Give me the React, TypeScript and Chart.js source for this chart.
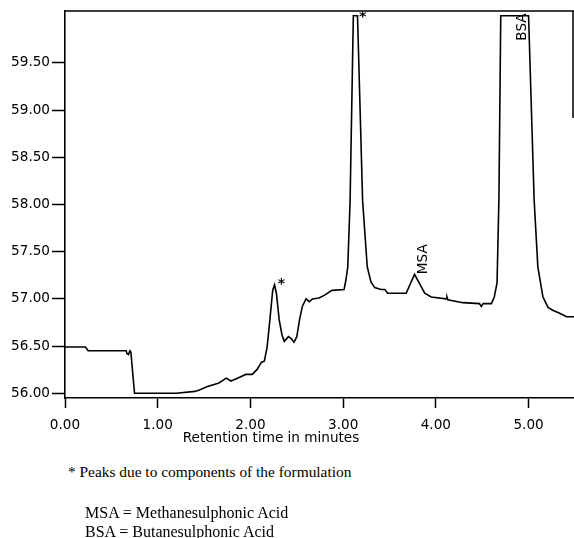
import React, { useEffect, useRef } from "react";
import { Chart, registerables } from "chart.js";

Chart.register(...registerables);

// Retention time (minutes)
const times = [
  0.0, 0.22, 0.25, 0.66, 0.67, 0.685, 0.7, 0.71, 0.75, 1.0, 1.2, 1.4, 1.45, 1.53, 1.66, 1.74, 1.79, 1.86,
  1.95, 2.02, 2.07, 2.12, 2.15, 2.18, 2.21, 2.24, 2.26, 2.28, 2.31, 2.34, 2.365, 2.41, 2.44, 2.47, 2.5,
  2.53, 2.56, 2.6, 2.635, 2.67, 2.74, 2.8, 2.88, 3.01, 3.03, 3.05, 3.075, 3.11, 3.155, 3.21, 3.26, 3.3,
  3.34, 3.41, 3.45, 3.48, 3.68, 3.72, 3.77, 3.82, 3.88, 3.95, 4.11, 4.12, 4.13, 4.29, 4.47, 4.49, 4.51,
  4.6, 4.63, 4.66, 4.68, 4.7, 5.0, 5.06, 5.1, 5.155, 5.21, 5.26, 5.33, 5.41, 5.49,
];

// Detector signal
const signal = [
  56.49, 56.49, 56.45, 56.45, 56.42, 56.41, 56.45, 56.44, 56.0, 56.0, 56.0, 56.02, 56.035, 56.07, 56.11,
  56.16, 56.13, 56.16, 56.2, 56.2, 56.25, 56.33, 56.34, 56.49, 56.78, 57.09, 57.15, 57.06, 56.78, 56.62,
  56.55, 56.6, 56.58, 56.54, 56.6, 56.78, 56.92, 57.0, 56.97, 57.0, 57.01, 57.04, 57.09, 57.1, 57.2,
  57.34, 58.04, 60.0, 60.0, 58.04, 57.34, 57.18, 57.12, 57.1, 57.1, 57.06, 57.06, 57.15, 57.26, 57.17,
  57.06, 57.02, 57.0, 57.02, 56.99, 56.96, 56.95, 56.92, 56.95, 56.95, 57.02, 57.17, 58.05, 60.0, 60.0,
  58.05, 57.34, 57.02, 56.91, 56.88, 56.85, 56.81, 56.81,
];

const xTickValues = [0, 1, 2, 3, 4, 5];
const yTickValues = [56.0, 56.5, 57.0, 57.5, 58.0, 58.5, 59.0, 59.5];
const xAxisTitle = "Retention time in minutes";

const peakLabels = ["*", "*", "MSA", "BSA"];
const peakLabelTimes = [2.335, 3.21, 3.87, 4.93];
const peakLabelValues = [57.2, 60.02, 57.42, 59.88];
const peakLabelRotated = [false, false, true, true];

const footnoteStar = "* Peaks due to components of the formulation";
const footnoteMSA = "MSA = Methanesulphonic Acid";
const footnoteBSA = "BSA = Butanesulphonic Acid";

const AXIS_FONT = '"DejaVu Sans", sans-serif';
const AXIS_SIZE = 13.6;

export default function App() {
  const canvasRef = useRef<HTMLCanvasElement | null>(null);

  useEffect(() => {
    const canvas = canvasRef.current;
    if (!canvas) return;

    const decorPlugin = {
      id: "decor",
      afterDraw(chart: any) {
        const { ctx, chartArea, scales } = chart;
        ctx.save();
        ctx.strokeStyle = "#000";
        ctx.lineWidth = 1.5;
        ctx.beginPath();
        ctx.moveTo(chartArea.left, chartArea.top);
        ctx.lineTo(chartArea.right, chartArea.top);
        ctx.moveTo(chartArea.right - 1, chartArea.top);
        ctx.lineTo(chartArea.right - 1, chartArea.top + 107);
        ctx.stroke();

        ctx.fillStyle = "#000";
        ctx.font = AXIS_SIZE + "px " + AXIS_FONT;
        ctx.textAlign = "center";
        ctx.textBaseline = "middle";
        ctx.fillText(xAxisTitle, 271, 438);

        for (let i = 0; i < peakLabels.length; i++) {
          const px = scales.x.getPixelForValue(peakLabelTimes[i]);
          const py = scales.y.getPixelForValue(peakLabelValues[i]);
          ctx.save();
          ctx.translate(px, py);
          if (peakLabelRotated[i]) {
            ctx.rotate(-Math.PI / 2);
            ctx.font = AXIS_SIZE + "px " + AXIS_FONT;
            ctx.fillText(peakLabels[i], 0, 0);
          } else {
            ctx.font = "bold 14px " + AXIS_FONT;
            ctx.fillText(peakLabels[i], 0, 4);
          }
          ctx.restore();
        }
        ctx.restore();
      },
    };

    const chart = new Chart(canvas, {
      type: "line",
      data: {
        datasets: [
          {
            data: times.map((t, i) => ({ x: t, y: signal[i] })),
            borderColor: "#000",
            borderWidth: 1.6,
            pointRadius: 0,
            tension: 0,
            fill: false,
          },
        ],
      },
      options: {
        animation: false,
        responsive: false,
        events: [],
        layout: { padding: { top: 11, left: 0, right: 0, bottom: 0 } },
        plugins: { legend: { display: false }, tooltip: { enabled: false }, title: { display: false } },
        scales: {
          x: {
            type: "linear",
            min: 0,
            max: 5.49,
            afterBuildTicks: (scale: any) => {
              scale.ticks = xTickValues.map((v) => ({ value: v }));
            },
            afterFit: (scale: any) => {
              scale.height = 52;
            },
            border: { display: true, color: "#000", width: 1.6 },
            grid: {
              display: true,
              drawOnChartArea: false,
              drawTicks: true,
              tickLength: 10,
              tickColor: "#000",
              tickWidth: 1.5,
              color: "#000",
            },
            ticks: {
              color: "#000",
              font: { family: AXIS_FONT, size: AXIS_SIZE },
              padding: 9,
              maxRotation: 0,
              callback: (v: any) => Number(v).toFixed(2),
            },
          },
          y: {
            type: "linear",
            min: 55.95,
            max: 60.05,
            afterBuildTicks: (scale: any) => {
              scale.ticks = yTickValues.map((v) => ({ value: v }));
            },
            afterFit: (scale: any) => {
              scale.width = 65;
            },
            border: { display: true, color: "#000", width: 1.6 },
            grid: {
              display: true,
              drawOnChartArea: false,
              drawTicks: true,
              tickLength: 13,
              tickColor: "#000",
              tickWidth: 1.5,
              color: "#000",
            },
            ticks: {
              color: "#000",
              font: { family: AXIS_FONT, size: AXIS_SIZE },
              padding: 2,
              callback: (v: any) => Number(v).toFixed(2),
            },
          },
        },
      },
      plugins: [decorPlugin],
    });

    return () => chart.destroy();
  }, []);

  const noteStyle: React.CSSProperties = {
    position: "absolute",
    fontFamily: '"Liberation Serif", "Times New Roman", serif',
    fontSize: 16,
    lineHeight: "18px",
    color: "#000",
    whiteSpace: "nowrap",
  };

  return (
    <div style={{ position: "fixed", left: 0, top: 0, width: 574, height: 538, background: "#fff" }}>
      <canvas ref={canvasRef} width={574} height={450} style={{ position: "absolute", left: 0, top: 0 }} />
      <div style={{ ...noteStyle, left: 68, top: 463, fontSize: 15.4 }}>{footnoteStar}</div>
      <div style={{ ...noteStyle, left: 85, top: 504 }}>{footnoteMSA}</div>
      <div style={{ ...noteStyle, left: 85, top: 523 }}>{footnoteBSA}</div>
    </div>
  );
}
